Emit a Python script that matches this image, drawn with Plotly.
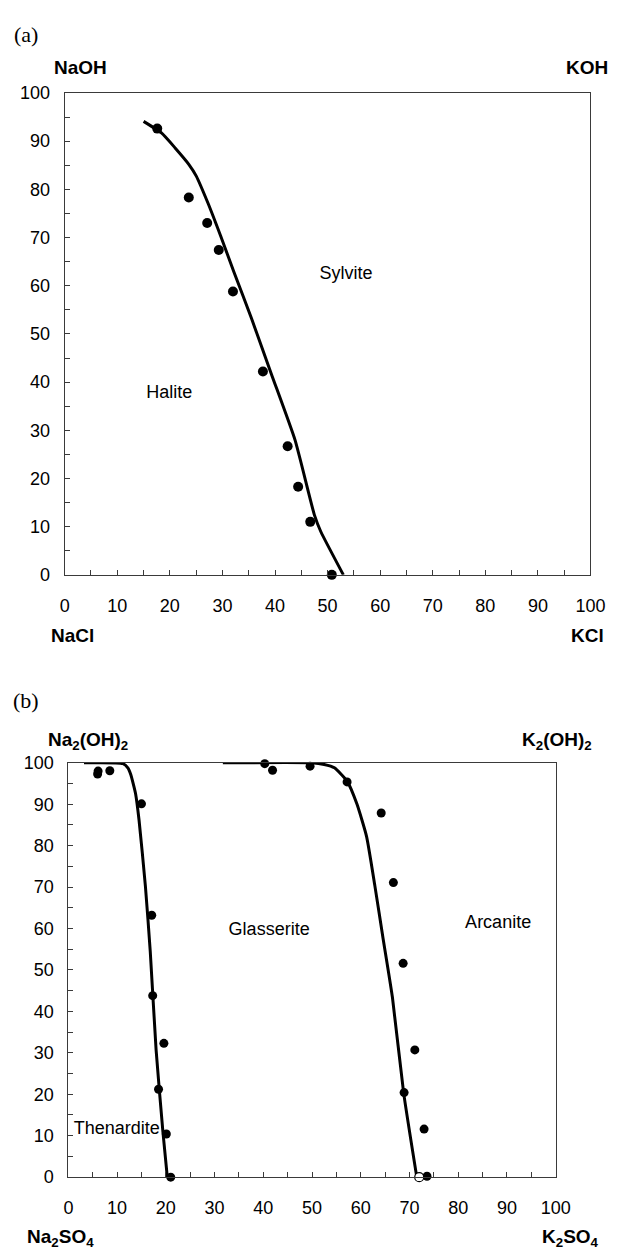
import plotly.graph_objects as go

# ---- (a) NaCl-KCl-NaOH-KOH reciprocal system ----
a_curve_x = [15.0, 18.4, 21.0, 23.6, 25.0, 27.3, 29.7, 32.2, 35.5, 39.3, 43.8, 47.5, 48.7, 53.0]
a_curve_y = [94.1, 91.7, 88.6, 85.2, 82.8, 77.0, 70.2, 62.8, 53.3, 41.7, 28.0, 12.4, 9.0, 0.0]
a_pts_x = [17.6, 23.6, 27.1, 29.3, 32.0, 37.7, 42.4, 44.4, 46.7, 50.8]
a_pts_y = [92.6, 78.3, 73.0, 67.4, 58.8, 42.2, 26.7, 18.3, 11.0, 0.0]
a_fields = ["Halite", "Sylvite"]
a_field_x = [19.9, 53.5]
a_field_y = [37.6, 62.3]

# ---- (b) Na2SO4-K2SO4-Na2(OH)2-K2(OH)2 reciprocal system ----
b_left_x = [3.2, 11.2, 12.2, 12.8, 13.3, 13.8, 14.5, 15.8, 16.8, 18.0, 19.4, 20.3]
b_left_y = [100.0, 99.8, 98.8, 97.2, 95.0, 92.5, 86.2, 70.3, 54.5, 30.7, 10.9, 0.0]
b_right_x = [31.7, 49.9, 52.5, 54.6, 57.2, 59.2, 61.2, 62.9, 64.6, 66.5, 68.8, 71.5]
b_right_y = [100.0, 100.0, 99.6, 98.8, 95.6, 90.1, 82.2, 70.3, 57.5, 43.4, 20.4, 0.0]
b_pts_x = [6.0, 6.1, 8.5, 15.0, 17.1, 17.3, 19.6, 18.5, 20.1, 21.0,
           40.3, 41.9, 49.6, 57.2, 64.2, 66.7, 68.7, 71.1, 68.9, 73.0, 73.6]
b_pts_y = [97.3, 98.0, 98.1, 90.1, 63.2, 43.8, 32.3, 21.2, 10.4, 0.0,
           99.8, 98.2, 99.2, 95.4, 87.9, 71.1, 51.6, 30.7, 20.4, 11.6, 0.2]
b_open_x = [72.0]
b_open_y = [0.0]
b_fields = ["Glasserite", "Arcanite", "Thenardite"]
b_field_x = [41.2, 88.2, 1.1]
b_field_y = [59.6, 61.2, 11.4]

tick_vals = list(range(0, 101, 10))

W, H = 620, 1257
SANS = "Liberation Sans, Arial, sans-serif"
SERIF = "Liberation Serif, Times New Roman, serif"
AXC = "#3a3a3a"

fig = go.Figure()

line_style = dict(color="black", width=3, shape="spline", smoothing=0.5)
dot_style = dict(color="black", size=10)

fig.add_trace(go.Scatter(x=a_curve_x, y=a_curve_y, mode="lines", line=line_style,
                         xaxis="x", yaxis="y", cliponaxis=False, showlegend=False))
fig.add_trace(go.Scatter(x=a_pts_x, y=a_pts_y, mode="markers", marker=dot_style,
                         xaxis="x", yaxis="y", cliponaxis=False, showlegend=False))
fig.add_trace(go.Scatter(x=a_field_x, y=a_field_y, mode="text", text=a_fields,
                         textfont=dict(family=SANS, size=18, color="black"),
                         xaxis="x", yaxis="y", showlegend=False))

fig.add_trace(go.Scatter(x=b_left_x, y=b_left_y, mode="lines", line=line_style,
                         xaxis="x2", yaxis="y2", cliponaxis=False, showlegend=False))
fig.add_trace(go.Scatter(x=b_right_x, y=b_right_y, mode="lines", line=line_style,
                         xaxis="x2", yaxis="y2", cliponaxis=False, showlegend=False))
fig.add_trace(go.Scatter(x=b_pts_x, y=b_pts_y, mode="markers", marker=dict(color="black", size=9),
                         xaxis="x2", yaxis="y2", cliponaxis=False, showlegend=False))
fig.add_trace(go.Scatter(x=b_open_x, y=b_open_y, mode="markers",
                         marker=dict(color="white", size=9, line=dict(color="black", width=1.2)),
                         xaxis="x2", yaxis="y2", cliponaxis=False, showlegend=False))
fig.add_trace(go.Scatter(x=b_field_x[:2], y=b_field_y[:2], mode="text", text=b_fields[:2],
                         textfont=dict(family=SANS, size=18, color="black"),
                         xaxis="x2", yaxis="y2", showlegend=False))
fig.add_trace(go.Scatter(x=b_field_x[2:], y=b_field_y[2:], mode="text", text=b_fields[2:],
                         textposition="middle right",
                         textfont=dict(family=SANS, size=18, color="black"),
                         xaxis="x2", yaxis="y2", showlegend=False))


def axis(domain, anchor, is_x):
    return dict(
        domain=domain, anchor=anchor, range=[0, 100],
        tickmode="array", tickvals=tick_vals,
        minor=dict(dtick=5, ticks="inside", ticklen=5, tickcolor=AXC, showgrid=False),
        ticks="inside", ticklen=5, tickcolor=AXC, tickwidth=1,
        showline=True, linecolor=AXC, linewidth=1.2, mirror=True,
        showgrid=False, zeroline=False,
        tickfont=dict(family=SANS, size=18, color="black"),
        ticklabelstandoff=14 if is_x else 10,
    )


def px_x(p):
    return p / W


def px_y(p):
    return 1 - p / H


fig.update_layout(
    width=W, height=H, margin=dict(l=0, r=0, t=0, b=0),
    paper_bgcolor="white", plot_bgcolor="white",
    xaxis=axis([px_x(61.7), px_x(605)], "y", True),
    yaxis=axis([px_y(574), px_y(84.3)], "x", False),
    xaxis2=axis([px_x(65.5), px_x(569)], "y2", True),
    yaxis2=axis([px_y(1186), px_y(765)], "x2", False),
)

corner_labels = [
    ("(a)", 22, 25, SERIF, 22, False),
    ("NaOH", 78, 58, SANS, 19, True),
    ("KOH", 601, 58, SANS, 19, True),
    ("NaCl", 70, 636, SANS, 19, True),
    ("KCl", 602, 636, SANS, 19, True),
    ("(b)", 22, 702, SERIF, 22, False),
    ("Na<sub>2</sub>(OH)<sub>2</sub>", 86, 743, SANS, 19, True),
    ("K<sub>2</sub>(OH)<sub>2</sub>", 570, 743, SANS, 19, True),
    ("Na<sub>2</sub>SO<sub>4</sub>", 57, 1248, SANS, 19, True),
    ("K<sub>2</sub>SO<sub>4</sub>", 584, 1248, SANS, 19, True),
]
for text, x, y, fam, size, bold in corner_labels:
    fig.add_annotation(
        text=f"<b>{text}</b>" if bold else text,
        x=px_x(x), y=px_y(y), xref="paper", yref="paper",
        xanchor="center", yanchor="middle", showarrow=False,
        font=dict(family=fam, size=size, color="black"),
    )

fig.write_html("out.html")
